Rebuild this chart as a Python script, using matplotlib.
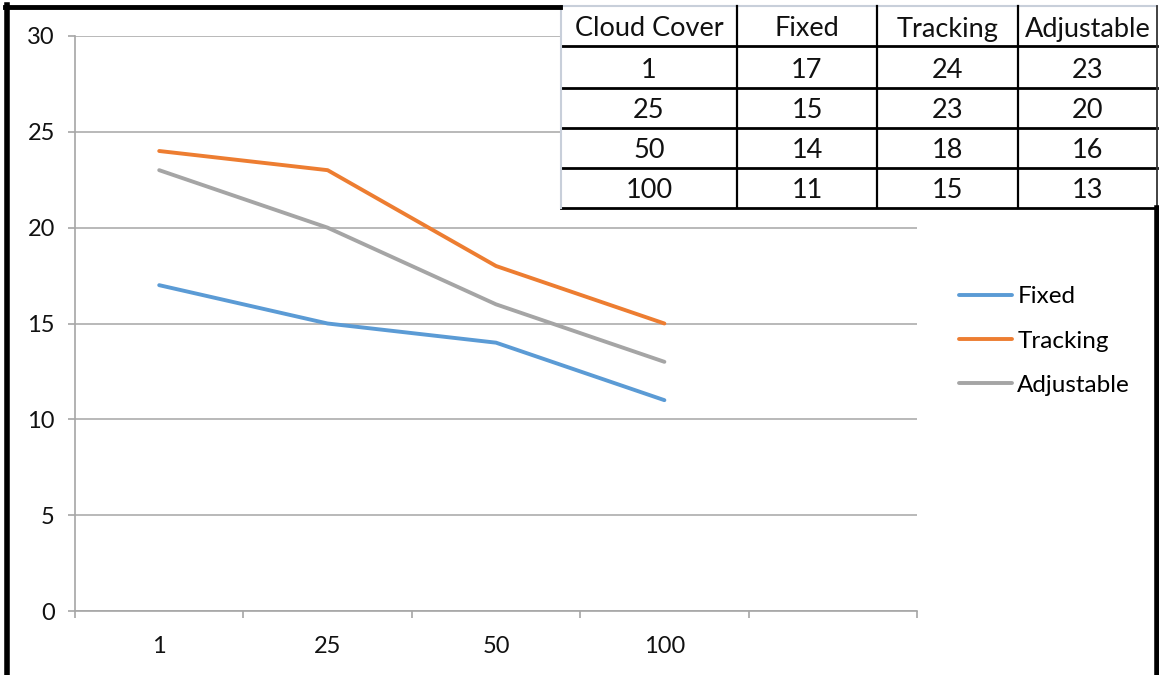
import matplotlib.pyplot as plt
from matplotlib.lines import Line2D

# Output vs. cloud cover for the three panel mounts
cloud_cover = ["1", "25", "50", "100"]
fixed = [17, 15, 14, 11]
tracking = [24, 23, 18, 15]
adjustable = [23, 20, 16, 13]

series = [
    ("Fixed", fixed, "#5B9BD5"),
    ("Tracking", tracking, "#ED7D31"),
    ("Adjustable", adjustable, "#A5A5A5"),
]

FONT = "Lato"
W, H = 1159, 675
fig = plt.figure(figsize=(W / 100, H / 100), dpi=100)


def px_box(x0, y0, x1, y1):
    """Figure-fraction rect from pixel coords (y measured from top)."""
    return [x0 / W, (H - y1) / H, (x1 - x0) / W, (y1 - y0) / H]


# --- main line chart ---
ax = fig.add_axes(px_box(75, 36, 917, 611))
n_slots = len(cloud_cover) + 1  # one empty category at the right end
xs = [i + 0.5 for i in range(len(cloud_cover))]
for name, vals, col in series:
    ax.plot(xs, vals, color=col, lw=2.8, label=name, solid_capstyle="round")

ax.set_xlim(0, n_slots)
ax.set_ylim(0, 30)
ax.set_yticks(range(0, 31, 5))
ax.set_xticks(range(n_slots + 1))
ax.set_xticklabels([])
ax.set_xticks(xs, minor=True)
ax.set_xticklabels(cloud_cover, minor=True)
ax.tick_params(axis="x", which="minor", length=0, pad=18)
ax.tick_params(axis="x", which="major", length=5, color="#A6A6A6", width=1.2)
ax.tick_params(axis="y", length=5, color="#A6A6A6", width=1.2, pad=9.5)
for lab in ax.get_yticklabels() + ax.get_xticklabels(minor=True):
    lab.set_fontfamily(FONT)
    lab.set_fontsize(17)
    lab.set_color("#111111")
ax.grid(axis="y", color="#A6A6A6", lw=1.1)
ax.set_axisbelow(True)
for side in ["top", "right"]:
    ax.spines[side].set_visible(False)
for side in ["left", "bottom"]:
    ax.spines[side].set_color("#A6A6A6")
    ax.spines[side].set_linewidth(1.2)

ax.legend(loc="center left", bbox_to_anchor=(959 / W, (H - 341) / H),
          bbox_transform=fig.transFigure, frameon=False, borderpad=0,
          borderaxespad=0, handlelength=2.2, handletextpad=0.2,
          labelspacing=0.95, prop={"family": FONT, "size": 17.5})

# --- data table in the top right corner ---
tab = fig.add_axes(px_box(561, 6, 1157, 208))
tab.set_xlim(561, 1157)
tab.set_ylim(208, 6)
tab.axis("off")
tab.add_patch(plt.Rectangle((561, 6), 596, 202, facecolor="white",
                            edgecolor="none", zorder=0))
col_edges = [561, 737, 877, 1018, 1157]
row_edges = [6, 46, 88, 128, 168, 208]
header = ["Cloud Cover", "Fixed", "Tracking", "Adjustable"]
rows = [header] + [[c, str(f), str(t), str(a)]
                   for c, f, t, a in zip(cloud_cover, fixed, tracking, adjustable)]

for y in row_edges[1:]:
    tab.plot([561, 1157], [y, y], color="black", lw=2, clip_on=False)
tab.plot([561, 1157], [6, 6], color="#C8CFDA", lw=1.5, clip_on=False)
tab.plot([561, 561], [6, 208], color="#C8CFDA", lw=1.5, clip_on=False)
for x in col_edges[1:-1]:
    tab.plot([x, x], [6, 208], color="black", lw=1.6, clip_on=False)
tab.plot([1157, 1157], [6, 208], color="#333333", lw=1.3, clip_on=False)

for r, cells in enumerate(rows):
    yc = (row_edges[r] + row_edges[r + 1]) / 2 + 3
    for c, txt in enumerate(cells):
        xc = (col_edges[c] + col_edges[c + 1]) / 2
        tab.text(xc, yc, txt, ha="center", va="center", fontsize=19.5,
                 family=FONT, color="#111111")

# --- black frame around the sheet ---
fig.add_artist(Line2D([6.5 / W, 6.5 / W], [0, (H - 5) / H], color="black",
                      lw=4, transform=fig.transFigure))
fig.add_artist(Line2D([5 / W, 560 / W], [(H - 7) / H, (H - 7) / H],
                      color="black", lw=3.5, transform=fig.transFigure))
fig.add_artist(Line2D([1156.5 / W, 1156.5 / W], [0, (H - 208) / H],
                      color="black", lw=4, transform=fig.transFigure))

fig.savefig("out.png", dpi=100)
